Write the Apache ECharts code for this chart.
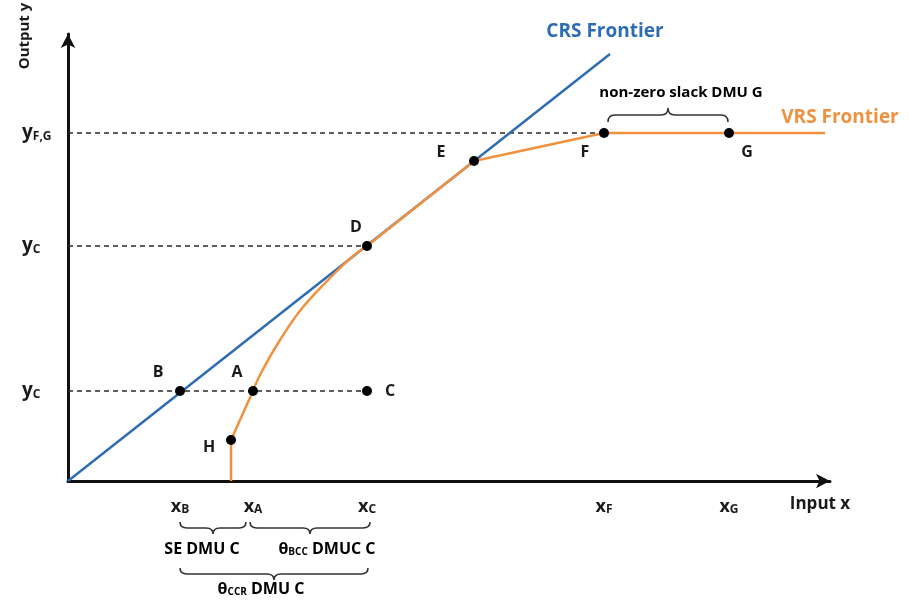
<!DOCTYPE html>
<html>
<head>
<meta charset="utf-8">
<script src="https://cdn.jsdelivr.net/npm/echarts@6/dist/echarts.min.js"></script>
<style>
  html, body { margin: 0; padding: 0; background: #fff; }
  #chart { width: 909px; height: 606px; }
</style>
</head>
<body>
<div id="chart"></div>
<script>
// values (1 unit = 1px from the origin)
var crsX = [0, 542];
var crsY = [0, 427];

// VRS frontier in three parts: foot up to A, the bent part A..D, then D to the end
var vrsLowX = [163, 163, 185];
var vrsLowY = [0, 41, 90];
var vrsBendX = [185, 193, 212, 235, 267, 284, 299];
var vrsBendY = [90, 108, 141, 174, 208, 224, 235];
var vrsHighX = [299, 406, 536, 661, 757];
var vrsHighY = [235, 320, 348, 348, 348];

var pointNames = ['B', 'A', 'C', 'H', 'D', 'E', 'F', 'G'];
var pointX = [112, 185, 299, 163, 299, 406, 536, 661];
var pointY = [90, 90, 90, 41, 235, 320, 348, 348];

var xTickValues = [112, 185, 299, 536, 661];
var xTickSubs = ['B', 'A', 'C', 'F', 'G'];
var yTickValues = [90, 235, 348];
var yTickSubs = ['C', 'C', 'F,G'];

// dashed guides: horizontal ones from the y axis, vertical ones from the x axis
var hGuides = ['C', 'D', 'F'];
var vGuides = ['B', 'A', 'D', 'F', 'G'];

// braces under / over the axis
var braceFrom = [112, 182, 112, 540];
var braceTo = [178, 302, 300, 660];
var braceAt = [-41, -41, -87, 359];
var braceText = [
    '{t|SE DMU C}',
    '{t|θ}{s|BCC}{t| DMUC C}',
    '{t|θ}{s|CCR}{t| DMU C}',
    '{n|non-zero slack DMU G}'
];

var FONT = '"Open Sans", "DejaVu Sans", sans-serif';
var BLUE = '#2f6db3';
var ORANGE = '#f0913f';
var INK = '#1a1a1a';

// label placement around each dot (style, not data)
var labelOffset = {
    B: [-22, -19], A: [-16, -19], C: [23, 0], H: [-22, 7],
    D: [-11, -19], E: [-33, -9], F: [-19, 19], G: [18, 19]
};
var braceTextDx = [-11, 17, -13, 13];
var braceTextDy = [27, 27, 21, -29];

function pairs(xs, ys) {
    return xs.map(function (x, i) { return [x, ys[i]]; });
}
function pt(name) {
    var i = pointNames.indexOf(name);
    return [pointX[i], pointY[i]];
}

var guideLines = [];
hGuides.forEach(function (n) {
    var p = pt(n);
    guideLines.push([{ coord: [0, p[1]], lineStyle: { type: [5, 4] } }, { coord: p }]);
});
vGuides.forEach(function (n) {
    var p = pt(n);
    guideLines.push([{ coord: [p[0], -5], lineStyle: { type: [3, 3] } }, { coord: p }]);
});

var dots = pointNames.map(function (n, i) {
    return {
        name: n,
        value: [pointX[i], pointY[i]],
        label: { offset: labelOffset[n] }
    };
});

var braces = braceFrom.map(function (x, i) { return [x, braceTo[i], braceAt[i]]; });

var vrsStyle = { color: ORANGE, width: 2.5 };

var chart = echarts.init(document.getElementById('chart'));

var option = {
    animation: false,
    backgroundColor: '#fff',
    grid: { left: 68, right: 79, top: 34, bottom: 125 },
    xAxis: {
        type: 'value',
        min: 0,
        max: 762,
        splitLine: { show: false },
        axisTick: { show: false },
        axisLine: {
            onZero: false,
            symbol: ['none', 'arrow'],
            symbolSize: [11, 14],
            lineStyle: { color: '#111', width: 3 }
        },
        axisLabel: {
            customValues: xTickValues,
            margin: 16,
            formatter: function (v) {
                return '{m|x}{s|' + xTickSubs[xTickValues.indexOf(v)] + '}';
            },
            rich: {
                m: { fontFamily: FONT, fontSize: 18, fontWeight: 'bold', color: INK },
                s: { fontFamily: FONT, fontSize: 12, fontWeight: 'bold', color: INK, padding: [7, 0, 0, 0] }
            }
        },
        name: 'Input x',
        nameLocation: 'end',
        nameGap: -10,
        nameTextStyle: {
            fontFamily: FONT, fontSize: 17, fontWeight: 'bold', color: INK,
            align: 'center', verticalAlign: 'top', padding: [15, 0, 0, 0]
        }
    },
    yAxis: {
        type: 'value',
        min: 0,
        max: 447,
        splitLine: { show: false },
        axisTick: { show: false },
        axisLine: {
            onZero: false,
            symbol: ['none', 'arrow'],
            symbolSize: [11, 14],
            lineStyle: { color: '#111', width: 3 }
        },
        axisLabel: {
            customValues: yTickValues,
            align: 'left',
            margin: 46,
            formatter: function (v) {
                return '{m|y}{s|' + yTickSubs[yTickValues.indexOf(v)] + '}';
            },
            rich: {
                m: { fontFamily: FONT, fontSize: 19, fontWeight: 'bold', color: INK },
                s: { fontFamily: FONT, fontSize: 12, fontWeight: 'bold', color: INK, padding: [7, 0, 0, 0] }
            }
        }
    },
    graphic: [{
        type: 'text',
        x: 25,
        y: 36,
        rotation: Math.PI / 2,
        style: {
            text: 'Output y',
            fontFamily: FONT, fontSize: 15, fontWeight: 'bold', fill: INK,
            align: 'center', verticalAlign: 'middle'
        }
    }],
    series: [
        {
            name: 'CRS Frontier',
            type: 'line',
            data: pairs(crsX, crsY),
            showSymbol: false,
            symbol: 'none',
            z: 3,
            lineStyle: { color: BLUE, width: 2.5 },
            endLabel: {
                show: true,
                formatter: 'CRS Frontier',
                distance: 0,
                align: 'center',
                verticalAlign: 'middle',
                offset: [-5, -22],
                fontFamily: FONT, fontSize: 19, fontWeight: 'bold', color: BLUE
            }
        },
        {
            name: 'VRS Frontier',
            type: 'line',
            data: pairs(vrsHighX, vrsHighY),
            showSymbol: false,
            symbol: 'none',
            z: 4,
            lineStyle: vrsStyle,
            endLabel: {
                show: true,
                formatter: 'VRS Frontier',
                distance: 0,
                align: 'center',
                verticalAlign: 'middle',
                offset: [15, -15],
                fontFamily: FONT, fontSize: 19, fontWeight: 'bold', color: ORANGE
            }
        },
        {
            name: 'VRS bend',
            type: 'line',
            data: pairs(vrsBendX, vrsBendY),
            smooth: 0.4,
            showSymbol: false,
            symbol: 'none',
            z: 4,
            lineStyle: vrsStyle
        },
        {
            name: 'VRS foot',
            type: 'line',
            data: pairs(vrsLowX, vrsLowY),
            showSymbol: false,
            symbol: 'none',
            z: 4,
            lineStyle: vrsStyle
        },
        {
            name: 'DMU',
            type: 'scatter',
            data: dots,
            symbolSize: 10,
            z: 5,
            itemStyle: { color: '#000', opacity: 1 },
            label: {
                show: true,
                position: 'inside',
                formatter: '{b}',
                fontFamily: FONT, fontSize: 16, fontWeight: 'bold', color: INK
            },
            markLine: {
                silent: true,
                symbol: ['none', 'none'],
                label: { show: false },
                lineStyle: { color: '#2a2a2a', width: 1.5, opacity: 1 },
                z: 2,
                data: guideLines
            }
        },
        {
            name: 'braces',
            type: 'custom',
            data: braces,
            silent: true,
            z: 6,
            renderItem: function (params, api) {
                var i = params.dataIndex;
                var p1 = api.coord([api.value(0), api.value(2)]);
                var p2 = api.coord([api.value(1), api.value(2)]);
                var h = api.value(2) < 0 ? 6 : -7;
                var r = 7;
                var x1 = p1[0], x2 = p2[0], y = p1[1], m = (x1 + x2) / 2;
                var d = 'M' + x1 + ' ' + y +
                    ' Q' + x1 + ' ' + (y + h) + ' ' + (x1 + r) + ' ' + (y + h) +
                    ' L' + (m - r) + ' ' + (y + h) +
                    ' Q' + m + ' ' + (y + h) + ' ' + m + ' ' + (y + 2 * h) +
                    ' Q' + m + ' ' + (y + h) + ' ' + (m + r) + ' ' + (y + h) +
                    ' L' + (x2 - r) + ' ' + (y + h) +
                    ' Q' + x2 + ' ' + (y + h) + ' ' + x2 + ' ' + y;
                return {
                    type: 'group',
                    children: [
                        {
                            type: 'path',
                            shape: { pathData: d },
                            style: { fill: 'none', stroke: '#333', lineWidth: 1.6 }
                        },
                        {
                            type: 'text',
                            x: m + braceTextDx[i],
                            y: y + braceTextDy[i],
                            style: {
                                text: braceText[i],
                                align: 'center',
                                verticalAlign: 'middle',
                                rich: {
                                    t: { fontFamily: FONT, fontSize: 16, fontWeight: 'bold', color: INK },
                                    s: { fontFamily: FONT, fontSize: 10, fontWeight: 'bold', color: INK, padding: [7, 0, 0, 0] },
                                    n: { fontFamily: FONT, fontSize: 15, fontWeight: 'bold', color: INK }
                                }
                            }
                        }
                    ]
                };
            }
        }
    ]
};

chart.setOption(option);
</script>
</body>
</html>
